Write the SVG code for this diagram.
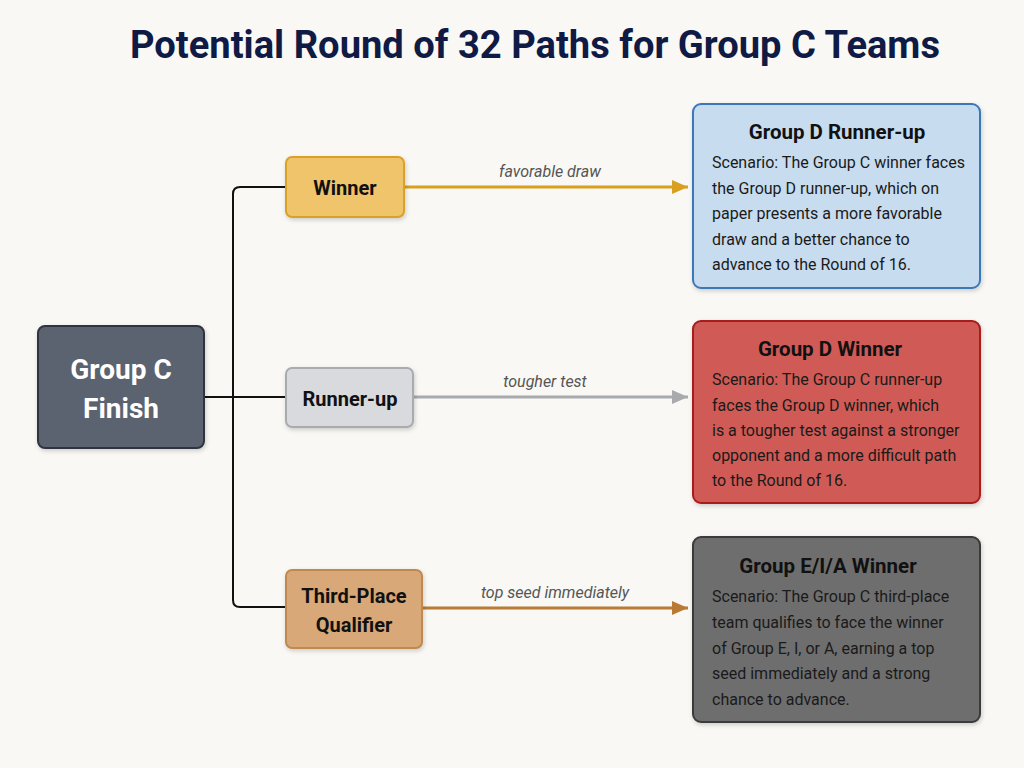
<svg xmlns="http://www.w3.org/2000/svg" width="1024" height="768" viewBox="0 0 1024 768">
<defs>
<filter id="sh" x="-10%" y="-10%" width="130%" height="130%">
<feDropShadow dx="1" dy="2" stdDeviation="2" flood-color="#000" flood-opacity="0.18"/>
</filter>
<marker id="aY" markerWidth="16" markerHeight="14" refX="16" refY="7" orient="auto" markerUnits="userSpaceOnUse" viewBox="0 0 16 14"><path d="M0,0 L16,7 L0,14 z" fill="#d9a020"/></marker>
<marker id="aG" markerWidth="16" markerHeight="14" refX="16" refY="7" orient="auto" markerUnits="userSpaceOnUse" viewBox="0 0 16 14"><path d="M0,0 L16,7 L0,14 z" fill="#a8aaad"/></marker>
<marker id="aB" markerWidth="16" markerHeight="14" refX="16" refY="7" orient="auto" markerUnits="userSpaceOnUse" viewBox="0 0 16 14"><path d="M0,0 L16,7 L0,14 z" fill="#b87a35"/></marker>
</defs>
<style>
.title{font-family:"Roboto","Liberation Sans",sans-serif;font-weight:bold;font-size:38px;fill:#0f1a45}
.lbl{font-family:"Roboto","Liberation Sans",sans-serif;font-weight:bold;font-size:20px;fill:#111;text-anchor:middle}
.big{font-family:"Roboto","Liberation Sans",sans-serif;font-weight:bold;font-size:28px;fill:#fff;text-anchor:middle}
.edge{font-family:"Roboto","Liberation Sans",sans-serif;font-style:italic;font-size:16px;fill:#555;text-anchor:middle}
.hd{font-family:"Roboto","Liberation Sans",sans-serif;font-weight:bold;font-size:20.5px;fill:#111;text-anchor:middle}
.body{font-family:"Roboto","Liberation Sans",sans-serif;font-size:16px;fill:#1a1a1a}
</style>
<rect width="1024" height="768" fill="#f9f8f4"/>
<text class="title" x="535" y="58" text-anchor="middle" textLength="810" lengthAdjust="spacingAndGlyphs">Potential Round of 32 Paths for Group C Teams</text>

<g id="connectors" fill="none">
<path d="M286,187 H240 Q233,187 233,194 V600 Q233,607 240,607 H286" stroke="#111" stroke-width="2"/>
<path d="M204,397 H286" stroke="#111" stroke-width="2"/>
<path d="M404,187 H688" stroke="#d9a020" stroke-width="3" marker-end="url(#aY)"/>
<path d="M413,397 H688" stroke="#a8aaad" stroke-width="3" marker-end="url(#aG)"/>
<path d="M422,608 H688" stroke="#b87a35" stroke-width="3" marker-end="url(#aB)"/>
<text class="edge" x="550" y="177">favorable draw</text>
<text class="edge" x="545" y="387">tougher test</text>
<text class="edge" x="555" y="598">top seed immediately</text>
</g>

<g id="groupC">
<rect x="38" y="326" width="166" height="122" rx="7" fill="#5b6470" stroke="#2f3640" stroke-width="2" filter="url(#sh)"/>
<text class="big" x="121" y="379">Group C</text>
<text class="big" x="121" y="418">Finish</text>
</g>

<g id="winner">
<rect x="286" y="157" width="118" height="60" rx="6" fill="#f0c46a" stroke="#d9a02a" stroke-width="2" filter="url(#sh)"/>
<text class="lbl" x="345" y="195">Winner</text>
</g>

<g id="runnerup">
<rect x="286" y="368" width="127" height="59" rx="6" fill="#d8dadd" stroke="#a8acb0" stroke-width="2" filter="url(#sh)"/>
<text class="lbl" x="350" y="406">Runner-up</text>
</g>

<g id="third">
<rect x="286" y="570" width="136" height="78" rx="6" fill="#d8a878" stroke="#c08a50" stroke-width="2" filter="url(#sh)"/>
<text class="lbl" x="354" y="603">Third-Place</text>
<text class="lbl" x="354" y="632">Qualifier</text>
</g>

<g id="groupDRunnerUp">
<rect x="693" y="104" width="287" height="184" rx="8" fill="#c8dcef" stroke="#3a78b8" stroke-width="2" filter="url(#sh)"/>
<text class="hd" x="837" y="139">Group D Runner-up</text>
<text class="body" x="712"><tspan x="712" y="168">Scenario: The Group C winner faces</tspan><tspan x="712" y="194">the Group D runner-up, which on</tspan><tspan x="712" y="219">paper presents a more favorable</tspan><tspan x="712" y="245">draw and a better chance to</tspan><tspan x="712" y="270">advance to the Round of 16.</tspan></text>
</g>

<g id="groupDWinner">
<rect x="693" y="321" width="287" height="182" rx="8" fill="#d05a55" stroke="#a81c1c" stroke-width="2" filter="url(#sh)"/>
<text class="hd" x="830" y="356">Group D Winner</text>
<text class="body" x="712"><tspan x="712" y="385">Scenario: The Group C runner-up</tspan><tspan x="712" y="411">faces the Group D winner, which</tspan><tspan x="712" y="436">is a tougher test against a stronger</tspan><tspan x="712" y="461">opponent and a more difficult path</tspan><tspan x="712" y="486">to the Round of 16.</tspan></text>
</g>

<g id="groupEIAWinner">
<rect x="693" y="537" width="287" height="185" rx="8" fill="#6e6e6e" stroke="#3a3a3a" stroke-width="2" filter="url(#sh)"/>
<text class="hd" x="828" y="573">Group E/I/A Winner</text>
<text class="body" x="712"><tspan x="712" y="602">Scenario: The Group C third-place</tspan><tspan x="712" y="628">team qualifies to face the winner</tspan><tspan x="712" y="654">of Group E, I, or A, earning a top</tspan><tspan x="712" y="679">seed immediately and a strong</tspan><tspan x="712" y="705">chance to advance.</tspan></text>
</g>
</svg>
